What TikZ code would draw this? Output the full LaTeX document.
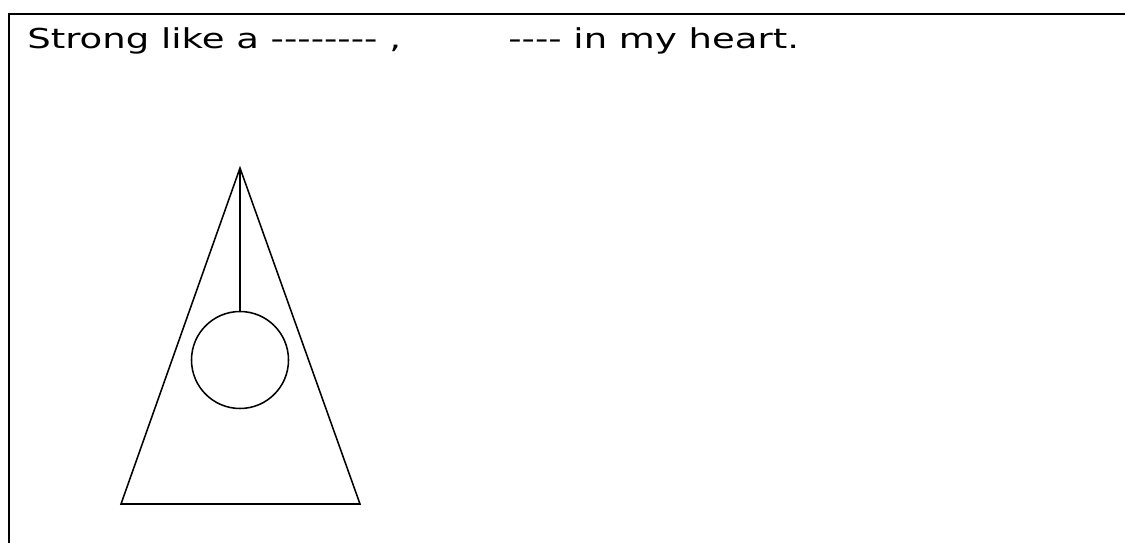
\documentclass[tikz,border=0pt]{standalone}
\usepackage{fontspec}
\setmainfont{DejaVu Sans}[FakeStretch=1.35]
\usetikzlibrary{positioning}

\begin{document}
\begin{tikzpicture}[
  frame/.style={line width=1.6pt},
  outline/.style={line width=1.1pt},
  words/.style={anchor=base west, inner sep=0pt,
    font=\fontsize{19.5}{23}\selectfont}
]

\useasboundingbox (0,0) rectangle (28.125,13.575);

\draw[frame] (0.225,0) -- (0.225,13.225) -- (28.125,13.225);

\node[words] (first) at (0.675,12.35) {Strong like a -{}-{}-{}-{}-{}-{}-{}- ,};
\node[words] (second) at (12.7,12.35) {-{}-{}-{}- in my heart.};

\coordinate (apex) at (6,9.375);
\coordinate (baseL) at (3.025,0.975);
\coordinate (baseR) at (9,0.975);

\draw[outline] (apex) -- (baseL) -- (baseR) -- cycle;

\node[outline, draw, circle, minimum size=2.425cm, inner sep=0pt] (bob) at (6,4.575) {};

\draw[outline] (apex) -- (bob.north);

\end{tikzpicture}
\end{document}
